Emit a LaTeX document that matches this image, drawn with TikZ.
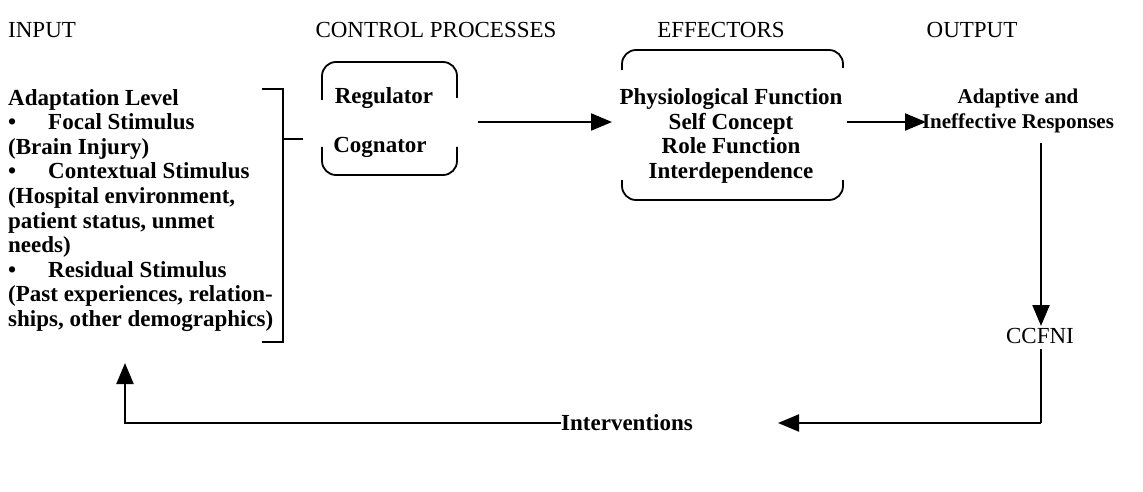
\documentclass[tikz,border=0pt]{standalone}
\usepackage{fontspec}
\setmainfont{Liberation Serif}
\usetikzlibrary{arrows.meta}
\begin{document}
\begin{tikzpicture}[x=1pt,y=-1pt,
  hdr/.style={inner sep=0pt, font=\fontsize{23}{24}\selectfont},
  txt/.style={inner sep=0pt, font=\bfseries\fontsize{23}{24.6}\selectfont},
  outtxt/.style={inner sep=0pt, font=\bfseries\fontsize{21}{24.6}\selectfont},
  plain/.style={inner sep=0pt, font=\fontsize{23}{24.6}\selectfont},
  ln/.style={line width=2.2pt},
  arr/.style={line width=2.2pt, -{Triangle[length=21pt,width=17pt]}},
  boxside/.style={line width=1.8pt, rounded corners=14pt}]
\useasboundingbox (0,0) rectangle (1143,492);
% headers
\node[hdr, anchor=west] (hin) at (8,30) {INPUT};
\node[hdr] (hcp) at (436,30) {CONTROL PROCESSES};
\node[hdr] (hef) at (721,30) {EFFECTORS};
\node[hdr] (hout) at (972,30) {OUTPUT};
% input column
\node[txt, anchor=north west, align=left] (inp) at (8,89) {Adaptation Level\\
\textbullet\hspace{32pt}Focal Stimulus\\
(Brain Injury)\\
\textbullet\hspace{32pt}Contextual Stimulus\\
(Hospital environment,\\
patient status, unmet\\
needs)\\
\textbullet\hspace{32pt}Residual Stimulus\\
(Past experiences, relation-\\
ships, other demographics)};
% bracket
\coordinate (bt) at (262,89);
\coordinate (bb) at (262,342);
\draw[ln] (bt) -- (283,89) -- (283,342) -- (bb);
\coordinate (bm) at (283,139);
\coordinate (bmr) at (303,139);
\draw[ln] (bm) -- (bmr);
% control processes
\node[txt] (reg) at (384,98) {Regulator};
\node[txt] (cog) at (380,147) {Cognator};
\draw[boxside] (322,100) -- (322,62) -- (457,62) -- (457,98);
\draw[boxside] (322,147) -- (322,175) -- (457,175) -- (457,147);
% effectors
\node[txt, align=center] (eff) at (731,136) {Physiological Function\\Self Concept\\Role Function\\Interdependence};
\draw[boxside] (622,70) -- (622,50) -- (843,50) -- (843,68);
\draw[boxside] (622,180) -- (622,200) -- (843,200) -- (843,180);
% output
\node[outtxt, align=center] (out) at (1018,111) {Adaptive and\\Ineffective Responses};
\node[plain] (ccfni) at (1040,336) {CCFNI};
\node[txt] (intv) at (627,423) {Interventions};
% connectors
\coordinate (a1s) at (478,122);
\coordinate (a1e) at (612,122);
\draw[arr] (a1s) -- (a1e);
\coordinate (a2s) at (847,122);
\coordinate (a2e) at (926,122);
\draw[arr] (a2s) -- (a2e);
\coordinate (v1) at (1041,143);
\coordinate (v2) at (1041,326);
\draw[arr] (v1) -- (v2);
\coordinate (c1) at (1041,349);
\coordinate (c2) at (1041,423);
\coordinate (c3) at (778,423);
\draw[ln] (c1) -- (c2);
\draw[arr] (c2) -- (c3);
\coordinate (d1) at (125,423);
\coordinate (d2) at (125,363);
\draw[arr] (intv.west) -- (d1) -- (d2);
\end{tikzpicture}
\end{document}
